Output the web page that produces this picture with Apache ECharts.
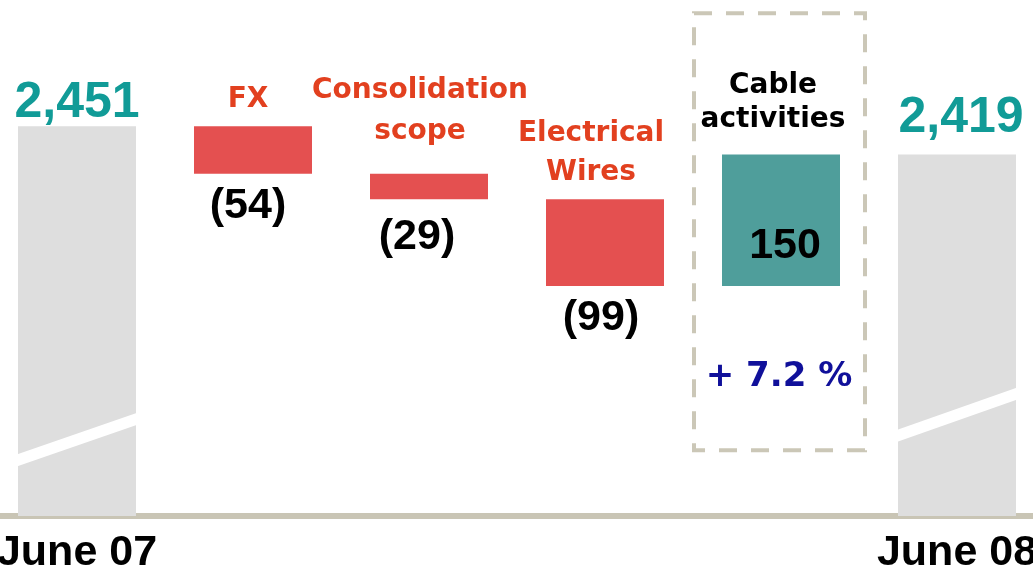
<!DOCTYPE html>
<html>
<head>
<meta charset="utf-8">
<script src="https://cdn.jsdelivr.net/npm/echarts@6/dist/echarts.min.js"></script>
<style>
  html, body { margin: 0; padding: 0; background: #fff; }
  #chart { width: 1033px; height: 570px; }
</style>
</head>
<body>
<div id="chart"></div>
<script>
// ---- 数据 ----
const categories = ['June 07', 'FX', 'Consolidation\nscope', 'Electrical\nWires', 'Cable\nactivities', 'June 08'];
const openTotal = 2451;
const changes = [-54, -29, -99, 150];   // FX, Consolidation scope, Electrical Wires, Cable activities
const closeTotal = 2419;
const cableGrowth = '+ 7.2 %';

// ---- 版式（像素级微调，非数据）----
const BAR_W = 118;
const AXIS_MIN = 2007, AXIS_MAX = 2595;          // 截断的纵轴
const totalLabelY = [-23, null, null, null, null, -36];
const totalLabelDX = [0, 0, 0, 0, 0, 4];
const nameLabelY = [null, -27, -63, -46, -52, null];   // 名称中心相对柱顶
const nameLabelDX = [0, -5, -9, -14, -8, 0];
const nameLineH = [0, 34, 41, 39, 34, 0];
const valueLabelY = [null, 32, 38, 32, -40, null];     // 数值中心相对柱底
const valueLabelDX = [0, -5, -12, -4, 4, 0];
const breaks = [[0, 2070, 2118], [5, 2098, 2147]];      // 断轴白条：[类目, 左端值, 右端值]
const boxRange = [[4, 2580, 2082]];                    // 虚线框：[类目, 上沿值, 下沿值]

const RED = '#e45050', TEAL = '#4f9e9b', GRAY = '#dedede';
const NAME_FONT = 'DejaVu Sans';
const NUM_FONT = 'Liberation Sans';

// 瀑布：透明底座 + 变动量
const n = categories.length;
const totals = [], bases = [], deltas = [];
let running = openTotal;
for (let i = 0; i < n; i++) { totals.push('-'); bases.push('-'); deltas.push('-'); }
totals[0] = openTotal;
totals[n - 1] = closeTotal;
changes.forEach((c, k) => {
  const next = running + c;
  bases[k + 1] = Math.min(running, next);
  deltas[k + 1] = Math.abs(c);
  running = next;
});

const fmtThousand = v => String(v).replace(/\B(?=(\d{3})+(?!\d))/g, ',');

const totalData = totals.map((v, i) => v === '-' ? '-' : {
  value: v,
  label: {
    show: true, position: ['50%', totalLabelY[i]], offset: [totalLabelDX[i], 0],
    align: 'center', verticalAlign: 'middle',
    formatter: fmtThousand(v),
    fontFamily: NUM_FONT, fontWeight: 'bold', fontSize: 50, color: '#119b97'
  }
});

const baseData = bases.map((v, i) => v === '-' ? '-' : {
  value: v,
  label: {
    show: true, position: ['50%', valueLabelY[i]], offset: [valueLabelDX[i], 0],
    align: 'center', verticalAlign: 'middle',
    formatter: changes[i - 1] < 0 ? '(' + (-changes[i - 1]) + ')' : String(changes[i - 1]),
    fontFamily: NUM_FONT, fontWeight: 'bold', fontSize: 43, color: '#000'
  }
});

const deltaData = deltas.map((v, i) => v === '-' ? '-' : {
  value: v,
  itemStyle: { color: changes[i - 1] < 0 ? RED : TEAL },
  label: {
    show: true, position: ['50%', nameLabelY[i]], offset: [nameLabelDX[i], 0],
    align: 'center', verticalAlign: 'middle', lineHeight: nameLineH[i],
    formatter: categories[i],
    fontFamily: NAME_FONT, fontWeight: 'bold', fontSize: 28,
    color: changes[i - 1] < 0 ? '#e2401f' : '#000'
  }
});

const chart = echarts.init(document.getElementById('chart'), null, { renderer: 'canvas' });
chart.setOption({
  animation: false,
  backgroundColor: '#fff',
  grid: { left: -11, right: -12, top: 0, bottom: 54, outerBoundsMode: 'none', containLabel: false },
  xAxis: {
    type: 'category', data: categories,
    axisTick: { show: false },
    axisLine: { lineStyle: { color: '#c9c5b5', width: 6 } },
    axisLabel: {
      interval: 0, margin: 16,
      formatter: (v, i) => (i === 0 || i === n - 1) ? v : '',
      fontFamily: NUM_FONT, fontWeight: 'bold', fontSize: 43, color: '#000'
    }
  },
  yAxis: { type: 'value', min: AXIS_MIN, max: AXIS_MAX, show: false, splitLine: { show: false } },
  series: [
    { name: 'base', type: 'bar', stack: 'wf', barWidth: BAR_W, data: baseData,
      itemStyle: { color: 'transparent' }, silent: true },
    { name: 'delta', type: 'bar', stack: 'wf', barWidth: BAR_W, data: deltaData },
    { name: 'total', type: 'bar', stack: 'wf', barWidth: BAR_W, data: totalData,
      itemStyle: { color: GRAY } },
    {
      name: 'break', type: 'custom', z: 5, silent: true, data: breaks,
      renderItem: (params, api) => {
        const idx = api.value(0);
        const pL = api.coord([idx, api.value(1)]);
        const pR = api.coord([idx, api.value(2)]);
        const half = BAR_W / 2 + 2, t = 6;
        return {
          type: 'polygon',
          shape: { points: [
            [pL[0] - half, pL[1] - t], [pL[0] + half, pR[1] - t],
            [pL[0] + half, pR[1] + t], [pL[0] - half, pL[1] + t]
          ] },
          style: { fill: '#fff' }
        };
      }
    },
    {
      name: 'box', type: 'custom', z: 5, silent: true, data: boxRange,
      renderItem: (params, api) => {
        const idx = api.value(0);
        const pT = api.coord([idx, api.value(1)]);
        const pB = api.coord([idx, api.value(2)]);
        return {
          type: 'group',
          children: [
            { type: 'rect',
              shape: { x: pT[0] - 87, y: pT[1], width: 171, height: pB[1] - pT[1] },
              style: { fill: 'none', stroke: '#cbc7b7', lineWidth: 4, lineDash: [18, 14] } },
            { type: 'text',
              style: { text: cableGrowth, x: pT[0] - 2, y: pB[1] - 73,
                align: 'center', verticalAlign: 'middle',
                font: 'bold 34px "DejaVu Sans"', fill: '#10109a' } }
          ]
        };
      }
    }
  ]
});
</script>
</body>
</html>
